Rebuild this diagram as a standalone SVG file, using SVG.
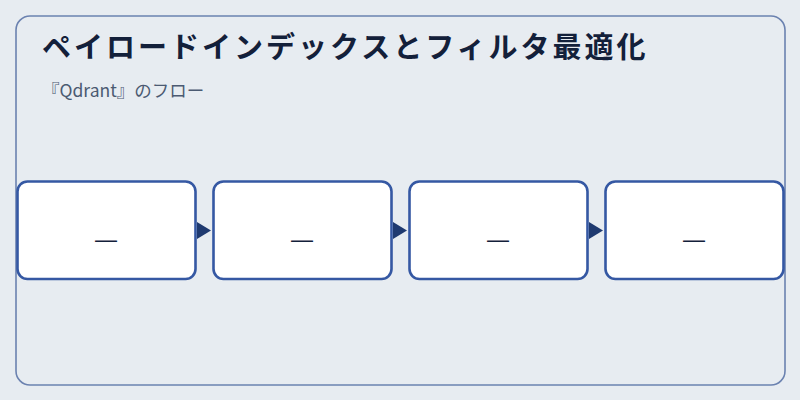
<svg xmlns="http://www.w3.org/2000/svg" width="800" height="400" viewBox="0 0 800 400">
<style>
.title{font-family:"Noto Sans CJK JP","Noto Sans",sans-serif;font-size:29px;font-weight:700;fill:#13203a;letter-spacing:3px}
.sub{font-family:"Noto Sans CJK JP","Noto Sans",sans-serif;font-size:17.5px;fill:#4b5a72}
.box{fill:#ffffff;stroke:#3558a3;stroke-width:2.6}
.lbl{font-family:"Liberation Sans",sans-serif;font-size:22px;fill:#13203a;text-anchor:middle}
.arr{fill:#1f3a70}
</style>
<rect x="0" y="0" width="800" height="400" fill="#e7ecf1"/>
<rect id="frame" x="16" y="16" width="769" height="369" rx="14" fill="#e7ecf1" stroke="#6b82b0" stroke-width="1.6"/>
<text class="title" x="42" y="58">ペイロードインデックスとフィルタ最適化</text>
<text class="sub" x="42" y="96.5">『Qdrant』のフロー</text>
<g id="connectors">
<polygon class="arr" points="197,222 211,230.5 197,239"/>
<polygon class="arr" points="393,222 407,230.5 393,239"/>
<polygon class="arr" points="589,222 603,230.5 589,239"/>
</g>
<g id="node1"><rect class="box" x="17.5" y="181.5" width="178" height="97.5" rx="10"/><text class="lbl" x="106" y="247">—</text></g>
<g id="node2"><rect class="box" x="213.5" y="181.5" width="178" height="97.5" rx="10"/><text class="lbl" x="302" y="247">—</text></g>
<g id="node3"><rect class="box" x="409.5" y="181.5" width="178" height="97.5" rx="10"/><text class="lbl" x="498" y="247">—</text></g>
<g id="node4"><rect class="box" x="605.5" y="181.5" width="178" height="97.5" rx="10"/><text class="lbl" x="694" y="247">—</text></g>
</svg>
